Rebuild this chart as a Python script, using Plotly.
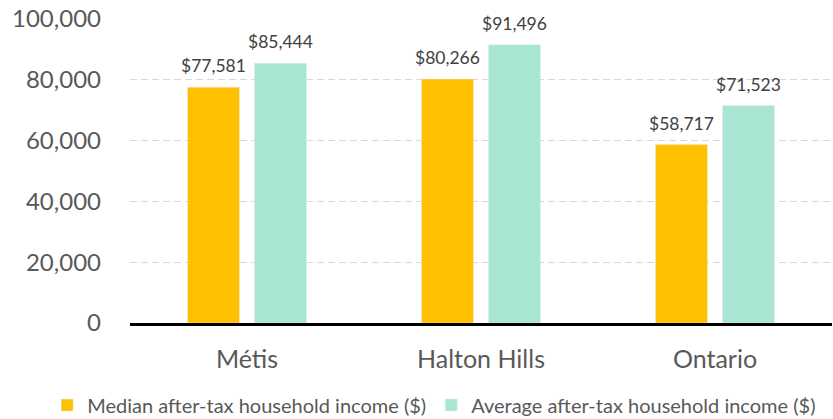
import plotly.graph_objects as go

categories = ["Métis", "Halton Hills", "Ontario"]
median_income = [77581, 80266, 58717]
average_income = [85444, 91496, 71523]
series_names = ["Median after-tax household income ($)", "Average after-tax household income ($)"]
y_ticks = [0, 20000, 40000, 60000, 80000, 100000]

FONT = "Lato, 'Open Sans', sans-serif"

fig = go.Figure()
series = [(median_income, series_names[0], "#FFC000", -33.5),
          (average_income, series_names[1], "#A9E5D3", 33.5)]
for vals, name, color, _ in series:
    fig.add_trace(go.Bar(
        x=categories, y=vals, name=name,
        marker=dict(color=color),
    ))

annotations = []
for vals, name, color, xs in series:
    for cat, v in zip(categories, vals):
        annotations.append(dict(
            x=cat, y=v, xref="x", yref="y", text=f"${v:,}",
            showarrow=False, xanchor="center", yanchor="bottom",
            xshift=xs, yshift=9,
            font=dict(size=17.5, color="#404040", family=FONT),
        ))

fig.update_layout(
    width=833, height=419,
    margin=dict(l=130, r=1, t=19, b=96, autoexpand=False),
    paper_bgcolor="white", plot_bgcolor="white",
    barmode="group", bargap=0.427, bargroupgap=0.224,
    font=dict(family=FONT, color="#595959"),
    showlegend=True,
    annotations=annotations,
    legend=dict(orientation="h", xref="paper", yref="paper",
                x=-0.118, xanchor="left", y=-0.27, yanchor="middle",
                font=dict(size=20, color="#595959", family=FONT),
                itemwidth=30, tracegroupgap=0),
    xaxis=dict(showline=True, linecolor="black", linewidth=3, automargin=False,
               tickfont=dict(size=25, color="#595959", family=FONT),
               ticks="", ticklabelstandoff=12),
    yaxis=dict(range=[0, 100000], tickvals=y_ticks, tickformat=",", automargin=False,
               showgrid=True, gridcolor="#D9D9D9", griddash="7px,4px", gridwidth=1,
               zeroline=False, showline=False,
               tickfont=dict(size=24, color="#595959", family=FONT),
               ticklabelstandoff=28),
)

fig.write_html("out.html", config={"displayModeBar": False},
               post_script="document.body.style.margin='0';")
